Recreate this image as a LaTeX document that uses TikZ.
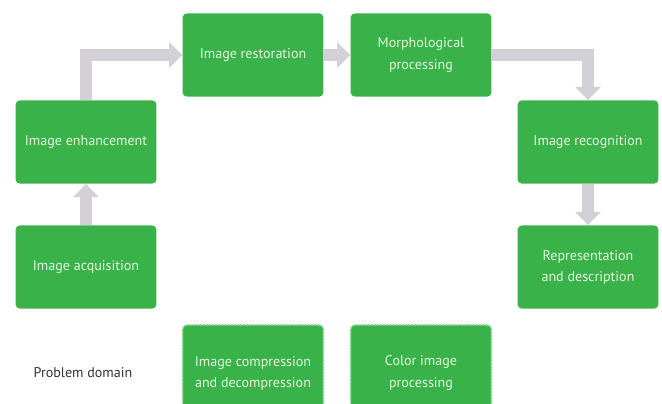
\documentclass[tikz,border=0pt]{standalone}
\usepackage{fontspec}
\setmainfont{PT Sans}
\usepackage{xcolor}
\usetikzlibrary{arrows.meta, positioning}
\definecolor{stage_green}{RGB}{58, 178, 74}
\definecolor{stage_text}{RGB}{228, 245, 222}
\definecolor{flow_gray}{RGB}{212, 208, 216}

\tikzset{
  stage/.style={fill=stage_green, rounded corners=3pt, minimum width=3.52cm,
    minimum height=2.08cm, text=stage_text, align=center,
    font=\fontsize{10}{15}\selectfont},
  extra/.style={stage, draw=stage_green!55!white, densely dotted, line width=1.2pt,
    minimum height=2.4cm},
  flow/.style={draw=flow_gray, line width=0.29cm,
    -{Triangle[length=0.33cm, width=0.62cm]}},
}

\begin{document}
\begin{tikzpicture}[x=0.025cm, y=-0.025cm]
    \useasboundingbox (0,0) rectangle (662,403);
    % Main stages
    \node[stage] (acq) at (86,267) {Image acquisition};
    \node[stage] (enh) at (86,142) {Image enhancement};
    \node[stage] (rest) at (253,55) {Image restoration};
    \node[stage] (morph) at (421,55) {Morphological\\processing};
    \node[stage] (recog) at (588,142) {Image recognition};
    \node[stage] (repr) at (588,267) {Representation\\and description};

    % Other stages
    \node[extra] (comp) at (253,373) {Image compression\\and decompression};
    \node[extra] (color) at (421,373) {Color image\\processing};
    \node[font=\fontsize{10}{15}\selectfont, text=black!80] (domain) at (83,373) {Problem domain};

    % Flow
    \draw[flow] (acq) -- (enh);
    \draw[flow] (enh.north) |- (rest.west);
    \draw[flow] (rest) -- (morph);
    \draw[flow] (morph.east) -| (recog.north);
    \draw[flow] (recog) -- (repr);
\end{tikzpicture}
\end{document}
